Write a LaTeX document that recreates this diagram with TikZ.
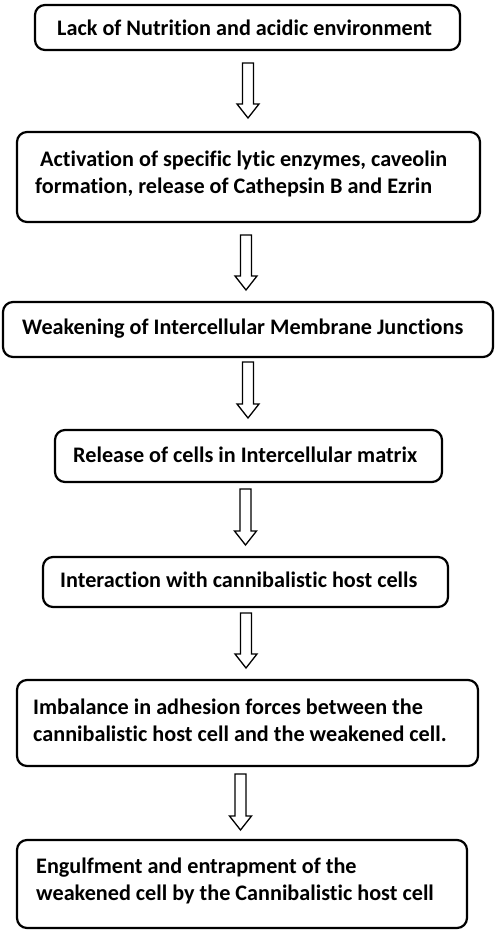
\documentclass[tikz,border=0pt]{standalone}
\usepackage{fontspec}
\setmainfont{Carlito}[Ligatures=NoCommon]
\usetikzlibrary{calc}
\tikzset{
  box/.style={draw=black, line width=2.2pt, rounded corners=10pt, inner sep=0pt, fill=white},
  txt/.style={inner sep=0pt, align=left, font={\bfseries\fontsize{22.2}{27}\selectfont}},
  harrow/.style={draw=black, line width=1.3pt, fill=white, line join=miter}
}
\newcommand{\hollowarrow}[2]{% #1 top coordinate, #2 tip coordinate
  \draw[harrow] ($(#1)+(-5.5,0)$) -- ($(#1)+(5.5,0)$) -- ($(#2)+(5.5,-14)$) -- ($(#2)+(11,-14)$)
    -- (#2) -- ($(#2)+(-11,-14)$) -- ($(#2)+(-5.5,-14)$) -- cycle;
}
\begin{document}
\begin{tikzpicture}[x=1pt, y=-1pt]
\useasboundingbox (0,0) rectangle (500,935);
% boxes: centre, width, height
\node[box, minimum width=425pt, minimum height=45pt] (b1) at (247.5,27.5) {};
\node[box, minimum width=463pt, minimum height=90pt] (b2) at (248.5,177) {};
\node[box, minimum width=490pt, minimum height=55pt] (b3) at (248,329.5) {};
\node[box, minimum width=387pt, minimum height=52pt] (b4) at (248.5,456) {};
\node[box, minimum width=405pt, minimum height=50pt] (b5) at (245.5,582) {};
\node[box, minimum width=461pt, minimum height=86pt] (b6) at (247.5,723) {};
\node[box, minimum width=450pt, minimum height=88pt] (b7) at (242,884) {};
% texts (base = baseline of last line)
\node[txt, anchor=base west] (t1) at (57,35) {Lack of Nutrition and acidic environment};
\node[txt, anchor=base west] (t2) at (35,193) {\hspace*{5pt}Activation of specific lytic enzymes, caveolin\\formation, release of Cathepsin B and Ezrin};
\node[txt, anchor=base west] (t3) at (22,334) {Weakening of Intercellular Membrane Junctions};
\node[txt, anchor=base west] (t4) at (73,462) {Release of cells in Intercellular matrix};
\node[txt, anchor=base west] (t5) at (60,587) {Interaction with cannibalistic host cells};
\node[txt, anchor=base west] (t6) at (33,741) {Imbalance in adhesion forces between the\\cannibalistic host cell and the weakened\ cell.};
\node[txt, anchor=base west] (t7) at (36,900) {Engulfment and entrapment\ of the\\weakened cell by the Cannibalistic host cell};
% arrow anchors
\coordinate (a1s) at (248,63);
\coordinate (a1e) at (248,118);
\coordinate (a2s) at (246,235);
\coordinate (a2e) at (246,290);
\coordinate (a3s) at (248,362);
\coordinate (a3e) at (248,418);
\coordinate (a4s) at (245.5,489);
\coordinate (a4e) at (245.5,545);
\coordinate (a5s) at (246,613);
\coordinate (a5e) at (246,668);
\coordinate (a6s) at (240.5,774);
\coordinate (a6e) at (240.5,830);
\hollowarrow{a1s}{a1e}
\hollowarrow{a2s}{a2e}
\hollowarrow{a3s}{a3e}
\hollowarrow{a4s}{a4e}
\hollowarrow{a5s}{a5e}
\hollowarrow{a6s}{a6e}
\end{tikzpicture}
\end{document}
